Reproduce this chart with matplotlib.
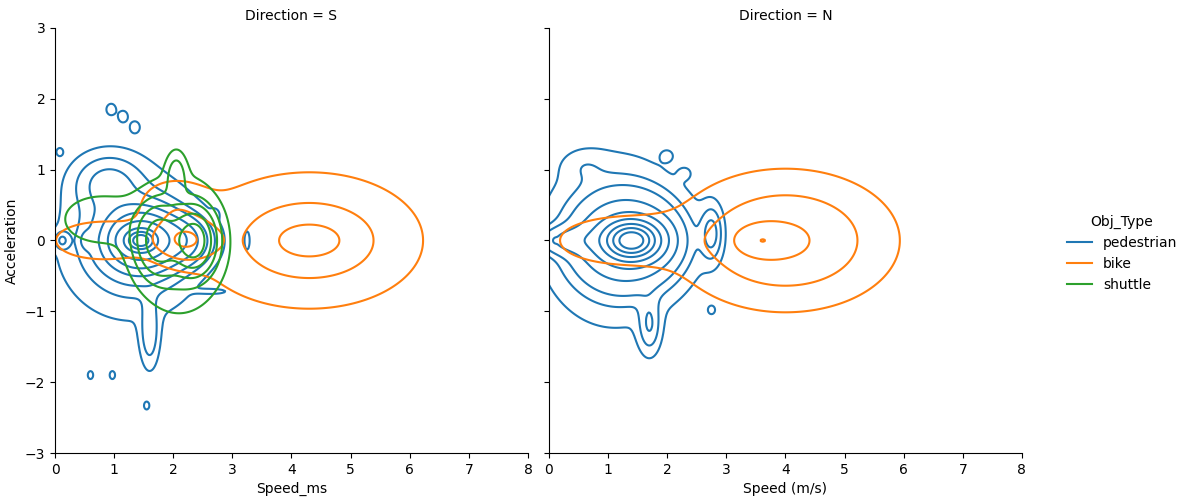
import numpy as np
import matplotlib.pyplot as plt
from matplotlib.lines import Line2D

# Mixture components: (speed, accel, sd_speed, sd_accel, weight)
ped_s = [(1.45, 0.0, 0.15, 0.09, 6.0), (1.45, 0.0, 0.35, 0.25, 4.0), (1.3, -0.05, 0.65, 0.55, 2.0),
         (2.1, 0.0, 0.3, 0.2, 0.8), (0.9, 0.8, 0.35, 0.25, 0.5), (0.55, 0.0, 0.08, 0.08, 0.03),
         (0.12, 0.0, 0.08, 0.08, 0.03), (0.08, 1.25, 0.04, 0.04, 0.003), (0.95, 1.85, 0.06, 0.06, 0.007),
         (1.15, 1.75, 0.06, 0.06, 0.007), (1.35, 1.6, 0.06, 0.06, 0.007), (0.6, -1.9, 0.04, 0.05, 0.003),
         (0.97, -1.9, 0.04, 0.05, 0.003), (1.55, -2.33, 0.04, 0.05, 0.003), (1.6, -1.3, 0.1, 0.3, 0.12),
         (3.25, 0.0, 0.05, 0.15, 0.008), (2.7, -0.72, 0.2, 0.03, 0.006), (2.7, 0.37, 0.05, 0.05, 0.003)]
bike_s = [(4.3, 0.0, 0.4, 0.17, 0.4), (4.3, 0.0, 1.1, 0.55, 4.0), (2.2, 0.0, 0.35, 0.2, 0.55),
          (0.8, 0.0, 0.6, 0.2, 0.4), (2.0, 0.5, 0.4, 0.25, 0.3)]
shuttle_s = [(2.35, 0.0, 0.2, 0.25, 3.0), (1.75, 0.0, 0.22, 0.28, 2.0), (2.1, -0.05, 0.45, 0.55, 2.5),
             (2.05, 0.9, 0.1, 0.2, 0.2), (0.75, 0.3, 0.55, 0.3, 0.6)]

ped_n = [(1.4, 0.0, 0.28, 0.16, 6.0), (1.35, 0.0, 0.5, 0.36, 4.0), (1.1, 0.0, 0.65, 0.65, 2.0),
         (0.4, 0.0, 0.35, 0.12, 0.4), (0.6, 1.05, 0.25, 0.15, 0.05), (2.0, 1.2, 0.09, 0.07, 0.006),
         (2.3, 0.95, 0.09, 0.07, 0.006), (2.75, 0.1, 0.12, 0.25, 0.15), (2.75, -0.98, 0.05, 0.05, 0.004),
         (1.7, -1.2, 0.12, 0.25, 0.12), (0.1, 0.0, 0.03, 0.03, 0.002)]
bike_n = [(3.6, 0.0, 0.25, 0.12, 0.3), (4.0, 0.0, 1.05, 0.55, 5.0), (1.2, 0.0, 0.8, 0.25, 0.7)]

type_names = ["pedestrian", "bike", "shuttle"]
colors = ["#1f77b4", "#ff7f0e", "#2ca02c"]
panels = {
    "S": {"pedestrian": (ped_s, 0.68), "bike": (bike_s, 0.16), "shuttle": (shuttle_s, 0.16)},
    "N": {"pedestrian": (ped_n, 0.8), "bike": (bike_n, 0.2)},
}
xlabels = {"S": "Speed_ms", "N": "Speed (m/s)"}

gx = np.linspace(-0.5, 7.5, 400)
gy = np.linspace(-3, 3, 400)
X, Y = np.meshgrid(gx, gy)


def density(comps, share):
    z = np.zeros_like(X)
    wsum = sum(c[4] for c in comps)
    for cx, cy, sx, sy, w in comps:
        g = np.exp(-0.5 * (((X - cx) / sx) ** 2 + ((Y - cy) / sy) ** 2)) / (2 * np.pi * sx * sy)
        z += w / wsum * g
    return z * share


def quantile_levels(dens, props):
    # iso-proportion -> iso-density, like seaborn's kdeplot
    vals = np.concatenate([d.ravel() for d in dens])
    sv = np.sort(vals)[::-1]
    cum = np.cumsum(sv) / vals.sum()
    idx = np.searchsorted(cum, 1 - props)
    return np.take(sv, idx, mode="clip")


fig = plt.figure(figsize=(11.78, 4.97), dpi=100)
ax1 = fig.add_axes([0.0467, 0.0885, 0.4015, 0.8552])
ax2 = fig.add_axes([0.4660, 0.0885, 0.4015, 0.8552], sharey=ax1)

props = np.linspace(0.05, 1, 10)
for ax, key in [(ax1, "S"), (ax2, "N")]:
    dens = {}
    for name in type_names:
        if name in panels[key]:
            comps, share = panels[key][name]
            dens[name] = density(comps, share)
    lev = np.unique(quantile_levels(list(dens.values()), props))
    for name, d in dens.items():
        ax.contour(X, Y, d, levels=lev, colors=colors[type_names.index(name)], linewidths=1.5)
    ax.set_xlim(0, 8)
    ax.set_ylim(-3, 3)
    ax.set_xticks(range(0, 9))
    ax.set_yticks(range(-3, 4))
    ax.set_title("Direction = " + key, fontsize=10)
    ax.set_xlabel(xlabels[key])
    ax.spines["top"].set_visible(False)
    ax.spines["right"].set_visible(False)

ax1.set_ylabel("Acceleration")
plt.setp(ax2.get_yticklabels(), visible=False)

handles = [Line2D([], [], color=c, lw=1.5) for c in colors]
fig.legend(handles, type_names, title="Obj_Type", frameon=False, handlelength=1.8,
           loc="center left", bbox_to_anchor=(0.895, 0.49))

fig.savefig("out.png", dpi=100)
